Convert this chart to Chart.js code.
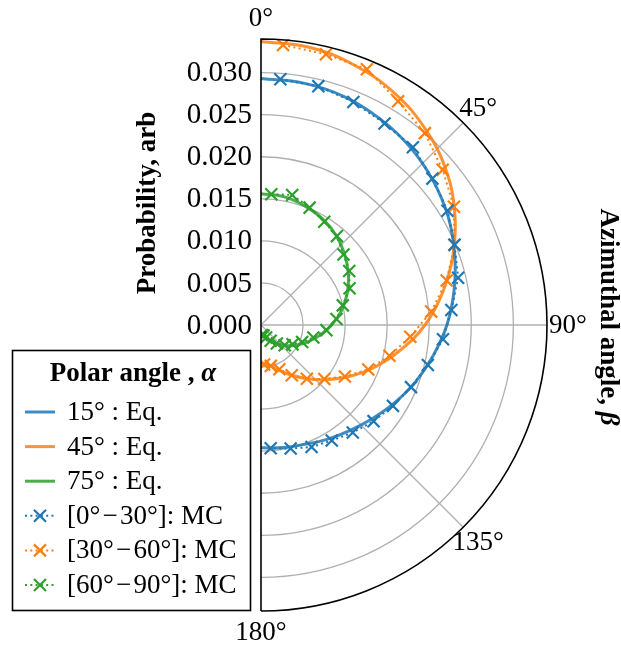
<!DOCTYPE html>
<html>
<head>
<meta charset="utf-8">
<script src="https://cdn.jsdelivr.net/npm/chart.js@4/dist/chart.umd.min.js"></script>
<style>
  html, body { margin: 0; padding: 0; background: #fff; }
  canvas { display: block; }
</style>
</head>
<body>
<canvas id="c" width="621" height="645"></canvas>
<script>
// Azimuthal angle beta (degrees) for the analytic curves
const betaEq = [0, 10, 20, 30, 40, 50, 60, 70, 80, 90, 100, 110, 120, 130, 140, 150, 160, 170, 180];
// Analytic probability for polar angles 15°, 45°, 75°
const eq15 = [0.0293, 0.0292, 0.0289, 0.0283, 0.0276, 0.0267, 0.0257, 0.0245, 0.0233, 0.0221, 0.0208, 0.0196, 0.0184, 0.0173, 0.0164, 0.0157, 0.0151, 0.0148, 0.0146];
const eq45 = [0.0337, 0.0335, 0.0328, 0.0318, 0.0304, 0.0287, 0.0266, 0.0243, 0.0219, 0.0195, 0.0169, 0.0145, 0.0122, 0.0101, 0.0083, 0.0068, 0.0056, 0.0048, 0.0045];
const eq75 = [0.0156, 0.0155, 0.0151, 0.0146, 0.0139, 0.0130, 0.0120, 0.0109, 0.0097, 0.0084, 0.0071, 0.0059, 0.0048, 0.0038, 0.0029, 0.0022, 0.0017, 0.0013, 0.0012];

// Monte Carlo bin centres (degrees) and binned probabilities
const betaMC = [4.5, 13.5, 22.5, 31.5, 40.5, 49.5, 58.5, 67.5, 76.5, 85.5, 94.5, 103.5, 112.5, 121.5, 130.5, 139.5, 148.5, 157.5, 166.5, 175.5];
const mc0to30  = [0.0293, 0.0292, 0.0287, 0.0281, 0.0278, 0.0268, 0.0260, 0.0249, 0.0241, 0.0227, 0.0217, 0.0204, 0.0193, 0.0184, 0.0176, 0.0168, 0.0161, 0.0157, 0.0151, 0.0147];
const mc30to60 = [0.0334, 0.0331, 0.0329, 0.0312, 0.0300, 0.0284, 0.0269, 0.0249, 0.0227, 0.0203, 0.0178, 0.0157, 0.0138, 0.0117, 0.0099, 0.0084, 0.0070, 0.0057, 0.0050, 0.0047];
const mc60to90 = [0.0156, 0.0159, 0.0151, 0.0144, 0.0139, 0.0129, 0.0123, 0.0114, 0.0100, 0.0090, 0.0078, 0.0064, 0.0053, 0.0044, 0.0037, 0.0029, 0.0022, 0.0016, 0.0013, 0.0012];

// Radial ticks and angular grid
const radialTicks = [0.000, 0.005, 0.010, 0.015, 0.020, 0.025, 0.030];
const angleTicks = [0, 45, 90, 135, 180];
const rMax = 0.034;

const labelsEq = ['15° : Eq.', '45° : Eq.', '75° : Eq.'];
const labelsMC = ['[0°\u200A\u2212\u200A30°]: MC', '[30°\u200A\u2212\u200A60°]: MC', '[60°\u200A\u2212\u200A90°]: MC'];
const colors = ['#1f77b4', '#ff7f0e', '#2ca02c'];
const colorsLine = ['rgba(31,119,180,0.85)', 'rgba(255,127,14,0.85)', 'rgba(44,160,44,0.85)'];

const SERIF = '"Liberation Serif", "DejaVu Serif", serif';

// polar (beta measured clockwise from the top, r) -> cartesian for the linear scales
function toXY(betas, rs) {
  return betas.map((b, i) => {
    const a = b * Math.PI / 180;
    return { x: rs[i] * Math.sin(a), y: rs[i] * Math.cos(a) };
  });
}

const eqSeries = [eq15, eq45, eq75];
const mcSeries = [mc0to30, mc30to60, mc60to90];

const datasets = [];
eqSeries.forEach((s, i) => datasets.push({
  label: labelsEq[i],
  kind: 'eq',
  data: toXY(betaEq, s),
  showLine: true,
  borderColor: colorsLine[i],
  borderWidth: 3,
  tension: 0.4,
  pointRadius: 0,
  order: 1
}));
mcSeries.forEach((s, i) => datasets.push({
  label: labelsMC[i],
  kind: 'mc',
  data: toXY(betaMC, s),
  showLine: true,
  borderColor: colors[i],
  borderWidth: 2,
  borderDash: [2, 3.3],
  tension: 0,
  pointStyle: 'crossRot',
  pointRadius: 8.5,
  pointBorderWidth: 2.2,
  pointBorderColor: colors[i],
  pointBackgroundColor: colors[i],
  order: 0
}));

function geom(chart) {
  const xs = chart.scales.x, ys = chart.scales.y;
  const cx = xs.getPixelForValue(0);
  const cy = ys.getPixelForValue(0);
  const R = xs.getPixelForValue(rMax) - cx;
  return { xs, ys, cx, cy, R };
}

const polarFrame = {
  id: 'polarFrame',
  beforeDatasetsDraw(chart) {
    const { ctx } = chart;
    const { xs, cx, cy, R } = geom(chart);
    ctx.save();
    ctx.strokeStyle = '#b0b0b0';
    ctx.lineWidth = 1.3;
    radialTicks.forEach(v => {
      if (v <= 0) return;
      const r = xs.getPixelForValue(v) - cx;
      ctx.beginPath();
      ctx.arc(cx, cy, r, -Math.PI / 2, Math.PI / 2);
      ctx.stroke();
    });
    angleTicks.forEach(b => {
      if (b === 0 || b === 180) return;
      const a = b * Math.PI / 180;
      ctx.beginPath();
      ctx.moveTo(cx, cy);
      ctx.lineTo(cx + R * Math.sin(a), cy - R * Math.cos(a));
      ctx.stroke();
    });
    ctx.restore();
  },
  afterDatasetsDraw(chart) {
    const { ctx } = chart;
    const { cx, cy, R } = geom(chart);
    ctx.save();
    ctx.strokeStyle = '#000';
    ctx.lineWidth = 1.6;
    ctx.beginPath();
    ctx.moveTo(cx, cy + R);
    ctx.lineTo(cx, cy - R);
    ctx.arc(cx, cy, R, -Math.PI / 2, Math.PI / 2);
    ctx.stroke();
    ctx.restore();
  },
  afterDraw(chart) {
    const { ctx } = chart;
    const { ys, cx, cy, R } = geom(chart);
    ctx.save();
    ctx.fillStyle = '#000';

    // radial tick labels along the left edge
    ctx.font = `29px ${SERIF}`;
    ctx.textAlign = 'right';
    ctx.textBaseline = 'middle';
    radialTicks.forEach(v => {
      ctx.fillText(v.toFixed(3), cx - 9, ys.getPixelForValue(v) + 1);
    });

    // angular labels
    ctx.font = `27px ${SERIF}`;
    ctx.textAlign = 'center';
    angleTicks.forEach(b => {
      const a = b * Math.PI / 180;
      const d = R + 21;
      ctx.fillText(b + '°', cx + d * Math.sin(a), cy - d * Math.cos(a) + 1);
    });

    // axis titles
    ctx.save();
    ctx.translate(148, 203);
    ctx.rotate(-Math.PI / 2);
    ctx.font = `bold 27px ${SERIF}`;
    ctx.fillText('Probability, arb', 0, 0);
    ctx.restore();

    ctx.save();
    ctx.translate(608, 317);
    ctx.rotate(Math.PI / 2);
    drawMixed(ctx, [['Azimuthal angle, ', `bold 27px ${SERIF}`], ['β', `italic bold 27px ${SERIF}`]], 0, 0);
    ctx.restore();

    drawLegend(chart);
    ctx.restore();
  }
};

// draws text runs with differing fonts, centred on (x, y)
function drawMixed(ctx, runs, x, y) {
  let total = 0;
  runs.forEach(([t, f]) => { ctx.font = f; total += ctx.measureText(t).width; });
  let px = x - total / 2;
  ctx.textAlign = 'left';
  ctx.textBaseline = 'middle';
  runs.forEach(([t, f]) => {
    ctx.font = f;
    ctx.fillText(t, px, y);
    px += ctx.measureText(t).width;
  });
}

function drawLegend(chart) {
  const { ctx } = chart;
  const box = { l: 12.5, t: 350.5, r: 250.5, b: 610.5 };
  ctx.save();
  ctx.fillStyle = '#fff';
  ctx.fillRect(box.l, box.t, box.r - box.l, box.b - box.t);
  ctx.strokeStyle = '#000';
  ctx.lineWidth = 1.6;
  ctx.strokeRect(box.l, box.t, box.r - box.l, box.b - box.t);

  ctx.fillStyle = '#000';
  drawMixed(ctx, [['Polar angle , ', `bold 27px ${SERIF}`], ['α', `italic bold 27px ${SERIF}`]], 133, 374);

  chart.data.datasets.forEach((ds, i) => {
    const y = 412 + i * 34.6;
    const x0 = 25, x1 = 55;
    ctx.save();
    ctx.strokeStyle = ds.borderColor;
    ctx.lineWidth = ds.borderWidth;
    if (ds.kind === 'mc') {
      ctx.setLineDash(ds.borderDash);
      ctx.beginPath();
      ctx.moveTo(x0, y);
      ctx.lineTo(x1, y);
      ctx.stroke();
      ctx.setLineDash([]);
      const h = 6;
      const xm = (x0 + x1) / 2;
      ctx.lineWidth = 2.2;
      ctx.beginPath();
      ctx.moveTo(xm - h, y - h); ctx.lineTo(xm + h, y + h);
      ctx.moveTo(xm - h, y + h); ctx.lineTo(xm + h, y - h);
      ctx.stroke();
    } else {
      ctx.beginPath();
      ctx.moveTo(x0, y);
      ctx.lineTo(x1, y);
      ctx.stroke();
    }
    ctx.restore();
    ctx.fillStyle = '#000';
    ctx.font = `27px ${SERIF}`;
    ctx.textAlign = 'left';
    ctx.textBaseline = 'middle';
    ctx.fillText(ds.label, 67, y + 1);
  });
  ctx.restore();
}

new Chart(document.getElementById('c'), {
  type: 'scatter',
  data: { datasets },
  options: {
    responsive: false,
    devicePixelRatio: 1,
    animation: false,
    events: [],
    layout: { padding: { left: 261, right: 74, top: 39, bottom: 34 } },
    scales: {
      x: { type: 'linear', min: 0, max: rMax, display: false },
      y: { type: 'linear', min: -rMax, max: rMax, display: false }
    },
    plugins: {
      legend: { display: false },
      tooltip: { enabled: false },
      title: { display: false }
    }
  },
  plugins: [polarFrame]
});
</script>
</body>
</html>
